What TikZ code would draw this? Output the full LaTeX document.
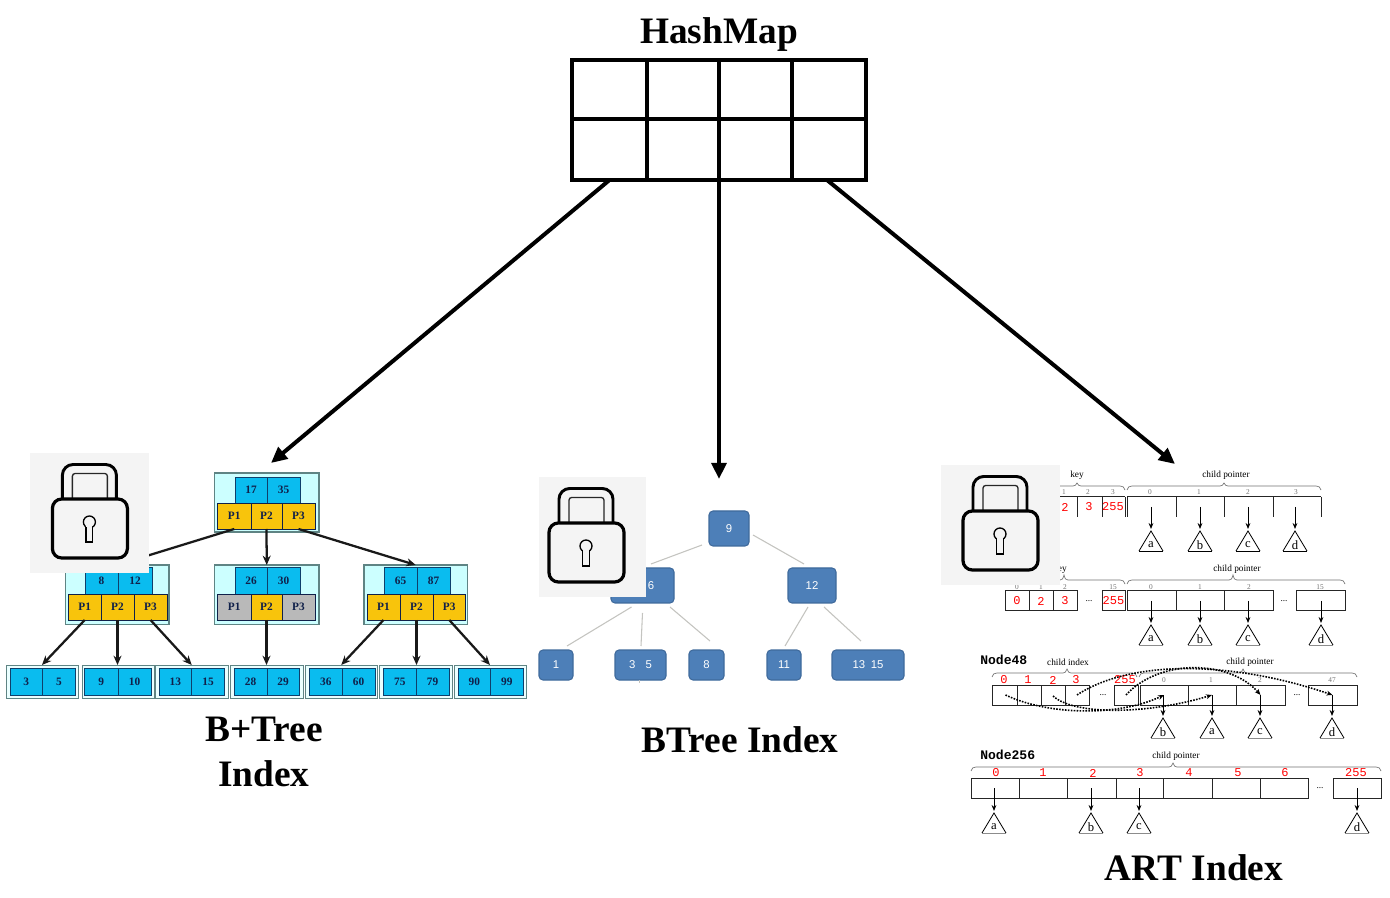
\documentclass[tikz,border=0pt]{standalone}
\usepackage{fontspec}
\setmainfont{Liberation Serif}
\newfontfamily\artmono{Liberation Mono}
\newfontfamily\btsans{Liberation Sans}
\usetikzlibrary{arrows.meta}
\definecolor{bpcyan}{HTML}{0ABCEF}
\definecolor{bpyellow}{HTML}{F8C40C}
\definecolor{bpgrey}{HTML}{B9B9B9}
\definecolor{bplight}{HTML}{CCFFFF}
\definecolor{bpedge}{HTML}{5F8484}
\definecolor{bpnavy}{HTML}{10204A}
\definecolor{btblue}{HTML}{4D7FB8}
\definecolor{btedge}{HTML}{3F6A9C}
\definecolor{btline}{HTML}{C4C4C0}
\definecolor{lockgrey}{HTML}{F4F4F4}
\newcommand{\cellnode}[7]{\node[#1,minimum width={(#5-#3)*0.75pt},minimum height={(#6-#4)*0.75pt}] (#2) at ({(#3+#5)/2},{(#4+#6)/2}) {#7};}
\newcommand{\artbrace}[5]{\draw[artbr] (#1,#5) .. controls (#1+1,#5-3) and (#1+2,#5-4) .. (#1+5,#5-4) -- (#2-4,#5-4) .. controls (#2-2,#5-4) and (#2-1,#5-5) .. (#2,#4) .. controls (#2+1,#5-5) and (#2+2,#5-4) .. (#2+4,#5-4) -- (#3-5,#5-4) .. controls (#3-2,#5-4) and (#3-1,#5-3) .. (#3,#5);}
\newcommand{\arttri}[5]{\coordinate (#1) at (#2,#3-2);
  \node[artletter] (#1l) at (#2,#3+14) {#4};
  \draw[artline] (#2-12,#3+20) -- (#2,#3) -- (#2+12,#3+20);
  \draw[#5] (#2-12,#3+20) -- (#2+12,#3+20);}
\tikzset{
  x=0.75pt,y=-0.75pt,
  bpouter/.style={draw=bpedge,fill=bplight,line width=0.9pt,inner sep=0pt,outer sep=0pt},
  bpleaf/.style={draw=bpedge,fill=bplight!40,line width=0.7pt,inner sep=0pt,outer sep=0pt},
  bpkey/.style={draw=bpnavy!80!bpcyan,fill=bpcyan,line width=0.7pt,inner sep=0pt,outer sep=0pt,text=bpnavy,font=\bfseries\fontsize{8.5}{9}\selectfont},
  bpptr/.style={draw=bpnavy,fill=bpyellow,line width=0.7pt,inner sep=0pt,outer sep=0pt,text=bpnavy,font=\bfseries\fontsize{8.5}{9}\selectfont},
  bpoff/.style={bpptr,fill=bpgrey},
  bparrow/.style={-{Stealth[length=7pt,width=6pt]},line width=1.7pt,draw=black!90},
  hcell/.style={draw=black,line width=3pt,inner sep=0pt,outer sep=0pt},
  hmarrow/.style={-{Triangle[length=12pt,width=11pt]},line width=3pt,draw=black},
  title/.style={font=\bfseries\fontsize{28}{30}\selectfont,inner sep=0pt},
  btnode/.style={draw=btedge,fill=btblue,line width=0.8pt,rounded corners=3pt,inner sep=0pt,outer sep=0pt,text=white,font=\btsans\fontsize{8.5}{10}\selectfont},
  btlink/.style={draw=btline,line width=0.8pt},
  artline/.style={draw=black,line width=0.6pt},
  artcell/.style={draw=black!85,line width=0.75pt,inner sep=0pt,outer sep=0pt},
  artbr/.style={draw=black!55,line width=0.5pt},
  artarrow/.style={-{Stealth[length=4.5pt,width=3.6pt]},draw=black,line width=0.7pt},
  artdot/.style={-{Stealth[length=4.5pt,width=3.6pt]},draw=black,line width=1.2pt,densely dotted},
  artred/.style={text=red,font=\artmono\fontsize{9}{10}\selectfont,inner sep=0pt},
  artidx/.style={text=black!55,font=\fontsize{5.5}{6}\selectfont,inner sep=0pt},
  artcap/.style={text=black,font=\fontsize{7}{8}\selectfont,inner sep=0pt},
  artname/.style={font=\artmono\bfseries\fontsize{9.8}{11}\selectfont,inner sep=0pt,anchor=west},
  artletter/.style={font=\fontsize{9.5}{10}\selectfont,inner sep=0pt},
  artdots/.style={font=\fontsize{7}{8}\selectfont,inner sep=0pt},
  padlock/.pic={
    \fill[lockgrey] (0,0) rectangle (119,120);
    \draw[black,line width=2.2pt,rounded corners=8pt] (32,46) -- (32,11.5) -- (86,11.5) -- (86,46);
    \draw[black!85,line width=1pt,rounded corners=2pt] (42,46) -- (42,20.5) -- (77,20.5) -- (77,46);
    \draw[black,line width=2.4pt,fill=lockgrey,rounded corners=7pt] (22,46) rectangle (97,105);
    \draw[black,line width=1pt] (59,69) circle (6);
    \fill[lockgrey] (56,72) rectangle (62,78);
    \draw[black,line width=1pt] (55.6,74) -- (55.6,89) -- (62.4,89) -- (62.4,74);
  },
}
\begin{document}
\begin{tikzpicture}
\useasboundingbox[fill=white] (0,0) rectangle (1390,898);

% ---------- HashMap
\node[title] (hmtitle) at (719,35) {HashMap};
\cellnode{hcell}{hm1}{572}{60}{647}{119}{}
\cellnode{hcell}{hm2}{647}{60}{719}{119}{}
\cellnode{hcell}{hm3}{719}{60}{792}{119}{}
\cellnode{hcell}{hm4}{792}{60}{866}{119}{}
\cellnode{hcell}{hm5}{572}{119}{647}{180}{}
\cellnode{hcell}{hm6}{647}{119}{719}{180}{}
\cellnode{hcell}{hm7}{719}{119}{792}{180}{}
\cellnode{hcell}{hm8}{792}{119}{866}{180}{}
\coordinate (btip) at (271,463);
\coordinate (ttip) at (719,479);
\coordinate (atip) at (1175,464);
\draw[hmarrow] (hm5.south) -- (btip);
\draw[hmarrow] (hm6.south east) -- (ttip);
\draw[hmarrow] ([xshift=-1.5pt]hm8.south) -- (atip);

% ---------- B+Tree
\cellnode{bpouter}{rbox}{214.5}{473}{319}{532}{}
\cellnode{bpouter}{lbox}{65.5}{565}{169}{624.5}{}
\cellnode{bpouter}{mbox}{214.5}{565}{319}{624.5}{}
\cellnode{bpouter}{xbox}{364}{565}{467.5}{624.5}{}
\foreach \n/\a/\b/\c/\d/\tx in {
  rk1/235/477/267/503/17, rk2/267/477/300/503/35,
  lk1/85/567/118/594/8, lk2/118/567/152/594/12,
  mk1/235/567/267/594/26, mk2/267/567/300/594/30,
  xk1/384/567/417/594/65, xk2/417/567/450/594/87}
  {\cellnode{bpkey}{\n}{\a}{\b}{\c}{\d}{\tx}}
\foreach \n/\a/\b/\c/\d/\tx in {
  rp1/217.5/503/251/529/P1, rp2/251/503/282/529/P2, rp3/282/503/315/529/P3,
  lp1/68.5/594/101/620/P1, lp2/101/594/134/620/P2, lp3/134/594/167/620/P3,
  mp2/251/594/282/620/P2,
  xp1/367/594/400/620/P1, xp2/400/594/433/620/P2, xp3/433/594/465.5/620/P3}
  {\cellnode{bpptr}{\n}{\a}{\b}{\c}{\d}{\tx}}
\cellnode{bpoff}{mp1}{217.5}{594}{251}{620}{P1}
\cellnode{bpoff}{mp3}{282}{594}{315}{620}{P3}
\foreach \n/\a/\c in {L1/6/78, L2/82/154, L3/155.5/228, L4/230/303, L5/305.5/377, L6/379/452, L7/454/526}
  {\cellnode{bpleaf}{\n}{\a}{665}{\c}{698}{}}
\foreach \n/\a/\c/\e/\u/\v in {
  a/10/42.5/75.5/3/5, b/84.5/118/151/9/10, c/159/191.5/224.5/13/15,
  d/234/267/299/28/29, e/309.5/342/375/36/60, f/383.5/416/449/75/79, g/458/490.5/523/90/99}
  {\cellnode{bpkey}{\n1}{\a}{668}{\c}{695.5}{\u}
   \cellnode{bpkey}{\n2}{\c}{668}{\e}{695.5}{\v}}
\draw[bparrow] (rp1.south) -- (lbox.north);
\draw[bparrow] (rp2.south) -- (mbox.north);
\draw[bparrow] (rp3.south) -- (xbox.north);
\draw[bparrow] (lp1.south) -- (L1.north);
\draw[bparrow] (lp2.south) -- (L2.north -| lp2.south);
\draw[bparrow] (lp3.south) -- (L3.north);
\draw[bparrow] (mp2.south) -- (L4.north -| mp2.south);
\draw[bparrow] (xp1.south) -- (L5.north);
\draw[bparrow] (xp2.south) -- (L6.north -| xp2.south);
\draw[bparrow] (xp3.south) -- (L7.north);
\node[title] (bpt1) at (264,729) {B+Tree};
\node[title] (bpt2) at (264,774) {Index};
\pic at (30.4,453) {padlock};

% ---------- BTree
\cellnode{btnode}{n9}{709}{511}{749}{546}{9}
\cellnode{btnode}{n6}{611}{568}{674}{603}{\hspace*{1.5em}6}
\cellnode{btnode}{n12}{788}{568}{836}{603}{12}
\cellnode{btnode}{t1}{539}{650}{573}{680}{1}
\cellnode{btnode}{t3}{615}{650}{666}{680}{3\hspace{0.9em}5}
\cellnode{btnode}{t8}{689}{650}{724}{680}{8}
\cellnode{btnode}{t11}{767}{650}{801}{680}{11}
\cellnode{btnode}{t13}{832}{650}{904}{680}{13\hspace{0.5em}15}
\draw[btlink] ([shift={(-27,-1)}]n9.south) -- ([shift={(8.5,-4)}]n6.north);
\draw[btlink] ([shift={(4,-11)}]n9.south east) -- ([shift={(-8,-4)}]n12.north);
\draw[btlink] ([shift={(-11,4)}]n6.south) -- ([shift={(-48,-4)}]t3.north west);
\draw[btlink] ([shift={(0,10)}]n6.south) -- ([shift={(0.5,-4)}]t3.north);
\draw[btlink] ([shift={(-4,4)}]n6.south east) -- ([shift={(-14,-9)}]t8.north east);
\draw[btlink] ([shift={(-4,4)}]n12.south) -- ([shift={(1,-4)}]t11.north);
\draw[btlink] ([shift={(12,4)}]n12.south) -- ([shift={(-7,-9)}]t13.north);
\draw[btlink] ([shift={(-1,0)}]t3.south) -- ([shift={(-1,3)}]t3.south);
\node[title] (btt) at (740,740) {BTree Index};
\begin{scope}
  \clip (539,477) rectangle (646,597);
  \pic at (527,477) {padlock};
\end{scope}

% ---------- ART: Node4
\artbrace{1040}{1077}{1125}{483}{490}
\artbrace{1127}{1224}{1321}{483}{490}
\node[artcap] (c4a) at (1077,475) {key};
\node[artcap] (c4b) at (1226,475) {child pointer};
\foreach \n/\x/\tx in {i41/1064/1,i42/1088/2,i43/1113/3,i44/1150/0,i45/1199/1,i46/1248/2,i47/1296/3}
  {\node[artidx] (\n) at (\x,492) {\tx};}
\draw[artcell] (1040,497) -- (1125,497) (1127,497) -- (1321,497);
\foreach \x in {1077,1102,1125,1127,1176,1224,1273,1321}
  {\draw[artcell] (\x,497) -- (\x,517);}
\foreach \n/\x/\tx in {r41/1065/2,r42/1089/3,r43/1113/255}
  {\node[artred] (\n) at (\x,507) {\tx};}
\coordinate (q4) at (1151,507);
\coordinate (r4) at (1200,507);
\coordinate (s4) at (1248,507);
\coordinate (u4) at (1295,507);
\arttri{p4a}{1151}{531}{a}{artline}
\arttri{p4b}{1200}{531}{b}{artline}
\arttri{p4c}{1248}{531}{c}{artline}
\arttri{p4d}{1295}{531}{d}{artline}
\draw[artarrow] (q4) -- (p4a);
\draw[artarrow] (r4) -- (p4b);
\draw[artarrow] (s4) -- (p4c);
\draw[artarrow] (u4) -- (p4d);

% ---------- ART: Node16
\artbrace{1040}{1064}{1125}{575}{584}
\artbrace{1127}{1233}{1345}{575}{584}
\node[artcap] (c16a) at (1060,569) {key};
\node[artcap] (c16b) at (1237,569) {child pointer};
\foreach \n/\x/\tx in {i161/1017/0,i162/1041/1,i163/1065/2,i164/1113/15,i165/1151/0,i166/1200/1,i167/1249/2,i168/1320/15}
  {\node[artidx] (\n) at (\x,587) {\tx};}
\foreach \n/\a/\c/\tx in {k160/1005/1029/0, k161/1029/1053/2, k162/1053/1077/3, k163/1102/1125/255}
  {\cellnode{artcell,text=red,font=\artmono\fontsize{9}{10}\selectfont}{\n}{\a}{591}{\c}{611}{\tx}}
\foreach \n/\a/\c in {c160/1127/1176, c161/1176/1224, c162/1224/1273, c163/1296/1345}
  {\cellnode{artcell}{\n}{\a}{591}{\c}{611}{}}
\node[artdots] (d16a) at (1089,601) {...};
\node[artdots] (d16b) at (1284,601) {...};
\arttri{p16a}{1151}{625}{a}{artline,black!45}
\arttri{p16b}{1200}{625}{b}{artline,black!45}
\arttri{p16c}{1248}{625}{c}{artline,black!45}
\arttri{p16d}{1321}{625}{d}{artline,black!45}
\draw[artarrow] (c160.center -| p16a) -- (p16a);
\draw[artarrow] (c161.center -| p16b) -- (p16b);
\draw[artarrow] (c162.center -| p16c) -- (p16c);
\draw[artarrow] (c163.center -| p16d) -- (p16d);

% ---------- ART: Node48
\node[artname] (n48) at (980,660) {Node48};
\node[artcap] (c48a) at (1068,662) {child index};
\node[artcap] (c48b) at (1250,662) {child pointer};
\artbrace{992}{1067}{1137}{669}{677}
\artbrace{1139}{1243}{1357}{669}{677}
\foreach \n/\x/\tx in {r481/1004/0,r482/1028/1,r483/1053/2,r484/1076/3,r485/1125/255}
  {\node[artred] (\n) at (\x,680) {\tx};}
\foreach \n/\x/\tx in {i481/1164/0,i482/1211/1,i483/1260/2,i484/1332/47}
  {\node[artidx] (\n) at (\x,680) {\tx};}
\foreach \n/\a/\c in {k480/992/1017, k481/1017/1041, k482/1041/1065, k483/1065/1089, k484/1114/1138,
   c480/1140/1188, c481/1188/1236, c482/1236/1285, c483/1308/1357}
  {\cellnode{artcell}{\n}{\a}{685}{\c}{705}{}}
\node[artdots] (d48a) at (1103,695) {...};
\node[artdots] (d48b) at (1297,695) {...};
\arttri{p48b}{1163}{718}{b}{artline,black!45}
\arttri{p48a}{1212}{718}{a}{artline,black!45}
\arttri{p48c}{1260}{718}{c}{artline,black!45}
\arttri{p48d}{1332}{718}{d}{artline,black!45}
\draw[artarrow] (c480.center -| p48b) -- (p48b);
\draw[artarrow] (c481.center -| p48a) -- (p48a);
\draw[artarrow] (c482.center -| p48c) -- (p48c);
\draw[artarrow] (c483.center -| p48d) -- (p48d);
\draw[artdot] ([shift={(1,0)}]k480.center) .. controls (1050,716) and (1120,716) .. (c480.center);
\draw[artdot] ([shift={(0,1)}]k482.center) .. controls (1075,716) and (1150,714) .. (c481.center);
\draw[artdot] (k483.center) .. controls (1130,660) and (1230,660) .. (c483.center);
\draw[artdot] (k484.center) .. controls (1160,658) and (1230,660) .. (c482.center);

% ---------- ART: Node256
\node[artname] (n256) at (980,755) {Node256};
\node[artcap] (c256) at (1176,756) {child pointer};
\artbrace{971}{1173}{1381}{763}{771}
\foreach \n/\x/\tx in {r2560/996/0,r2561/1043/1,r2562/1093/2,r2563/1140/3,r2564/1189/4,r2565/1238/5,r2566/1285/6,r2567/1356/255}
  {\node[artred] (\n) at (\x,773) {\tx};}
\foreach \n/\a/\c in {s0/971/1019, s1/1019/1067, s2/1067/1116, s3/1116/1163, s4/1163/1212, s5/1212/1260, s6/1260/1308, s7/1333/1381}
  {\cellnode{artcell}{\n}{\a}{778}{\c}{798}{}}
\node[artdots] (d256) at (1320,788) {...};
\arttri{p256a}{994}{813}{a}{artline,black!45}
\arttri{p256b}{1091}{813}{b}{artline,black!45}
\arttri{p256c}{1139}{813}{c}{artline,black!45}
\arttri{p256d}{1357}{813}{d}{artline,black!45}
\draw[artarrow] (s0.center -| p256a) -- (p256a);
\draw[artarrow] (s2.center -| p256b) -- (p256b);
\draw[artarrow] (s3.center -| p256c) -- (p256c);
\draw[artarrow] (s7.center -| p256d) -- (p256d);
\node[title] (artt) at (1194,868) {ART Index};
\pic at (941,465) {padlock};
\end{tikzpicture}
\end{document}
